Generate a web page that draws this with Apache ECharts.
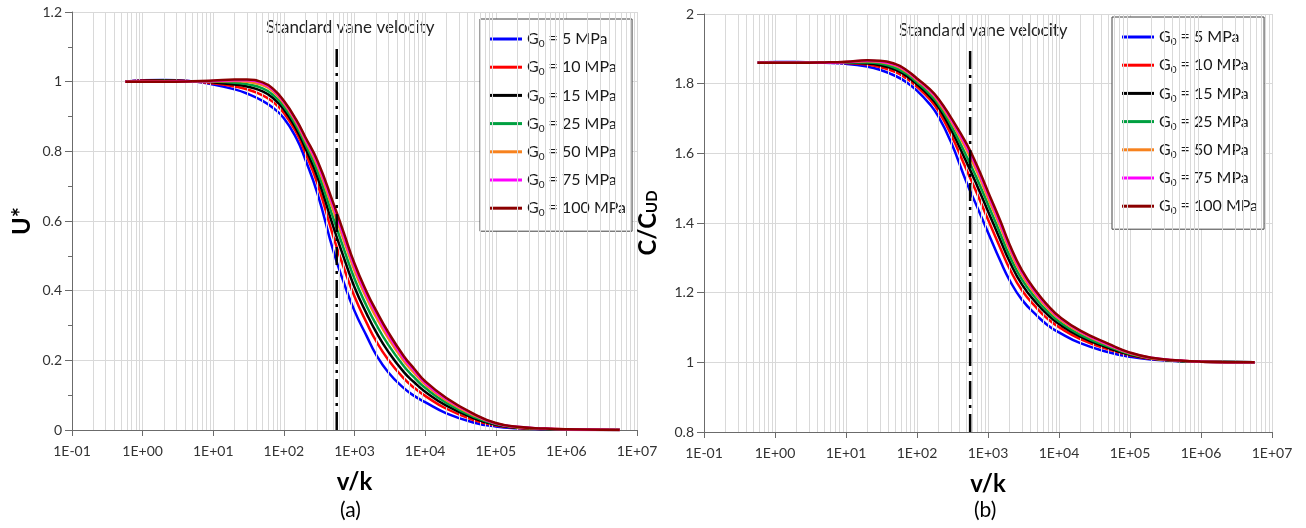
<!DOCTYPE html>
<html><head><meta charset="utf-8">
<script src="https://cdn.jsdelivr.net/npm/echarts@6/dist/echarts.min.js"></script>
<style>html,body{margin:0;padding:0;background:#fff}#c{width:1306px;height:528px}</style>
</head><body><div id="c"></div>
<script>
// ---- data ----
const vk = [0.57,1,2,5,10,20,30,50,70,100,150,200,300,500,700,1000,1500,2000,3000,5000,7000,1e4,2e4,5e4,1e5,2e5,5e5,1e6,5.7e6];
const seriesNames = ['G0 = 5 MPa','G0 = 10 MPa','G0 = 15 MPa','G0 = 25 MPa','G0 = 50 MPa','G0 = 75 MPa','G0 = 100 MPa'];
const seriesColors = ['#0000ff','#ff0000','#000000','#00a040','#f7821e','#ff00ff','#8b0000'];
// panel (a): U*
const uG5   = [1.000,1.004,1.005,1.001,0.992,0.978,0.966,0.945,0.925,0.895,0.838,0.778,0.678,0.515,0.425,0.342,0.268,0.218,0.166,0.120,0.098,0.080,0.048,0.021,0.010,0.005,0.002,0.001,0.000];
const uG10  = [1.000,1.003,1.004,1.001,0.995,0.986,0.978,0.961,0.942,0.910,0.854,0.797,0.706,0.556,0.468,0.383,0.306,0.257,0.202,0.148,0.121,0.098,0.061,0.028,0.013,0.006,0.003,0.001,0.000];
const uG15  = [1.000,1.002,1.003,1.001,0.998,0.992,0.986,0.972,0.953,0.920,0.864,0.810,0.725,0.584,0.497,0.410,0.332,0.283,0.225,0.166,0.137,0.110,0.070,0.033,0.015,0.007,0.003,0.0015,0.000];
const uG25  = [1.000,1.001,1.002,1.001,1.000,0.997,0.993,0.981,0.962,0.929,0.873,0.822,0.742,0.608,0.522,0.434,0.354,0.305,0.245,0.183,0.151,0.121,0.078,0.037,0.017,0.008,0.003,0.0015,0.000];
const uG50  = [1.000,1.001,1.001,1.001,1.001,1.002,1.000,0.990,0.972,0.938,0.882,0.832,0.758,0.631,0.547,0.458,0.376,0.326,0.264,0.198,0.164,0.131,0.085,0.041,0.019,0.008,0.004,0.002,0.000];
const uG75  = [1.000,1.000,1.000,1.001,1.002,1.004,1.004,0.995,0.977,0.942,0.887,0.838,0.766,0.644,0.559,0.470,0.387,0.338,0.274,0.206,0.171,0.136,0.089,0.044,0.019,0.009,0.004,0.002,0.000];
const uG100 = [1.000,1.000,1.000,1.001,1.003,1.006,1.006,0.998,0.980,0.945,0.890,0.842,0.772,0.652,0.568,0.478,0.395,0.345,0.281,0.212,0.176,0.140,0.092,0.045,0.020,0.009,0.004,0.002,0.000];
// panel (b): C/C_UD
const cG5   = [1.860,1.862,1.862,1.860,1.857,1.849,1.840,1.822,1.805,1.780,1.742,1.706,1.633,1.516,1.447,1.373,1.290,1.237,1.180,1.132,1.106,1.086,1.055,1.029,1.016,1.008,1.003,1.002,1.000];
const cG10  = [1.860,1.861,1.861,1.860,1.859,1.855,1.848,1.833,1.816,1.791,1.756,1.722,1.655,1.552,1.485,1.410,1.327,1.270,1.207,1.153,1.124,1.101,1.067,1.037,1.020,1.010,1.004,1.002,1.000];
const cG15  = [1.860,1.861,1.861,1.860,1.860,1.858,1.853,1.840,1.823,1.798,1.764,1.733,1.669,1.574,1.508,1.434,1.350,1.291,1.224,1.166,1.136,1.110,1.074,1.041,1.022,1.011,1.004,1.002,1.000];
const cG25  = [1.860,1.861,1.861,1.860,1.861,1.861,1.858,1.845,1.829,1.804,1.771,1.741,1.681,1.591,1.527,1.453,1.368,1.307,1.238,1.177,1.145,1.117,1.079,1.045,1.024,1.012,1.004,1.002,1.000];
const cG50  = [1.860,1.860,1.860,1.860,1.862,1.864,1.862,1.851,1.835,1.810,1.779,1.749,1.693,1.610,1.547,1.472,1.388,1.325,1.252,1.188,1.154,1.125,1.086,1.049,1.026,1.012,1.005,1.002,1.000];
const cG75  = [1.860,1.860,1.860,1.860,1.862,1.866,1.864,1.854,1.838,1.813,1.782,1.754,1.699,1.620,1.558,1.483,1.398,1.334,1.260,1.194,1.160,1.129,1.089,1.051,1.027,1.013,1.005,1.002,1.000];
const cG100 = [1.860,1.860,1.860,1.861,1.863,1.867,1.866,1.856,1.840,1.815,1.785,1.757,1.703,1.627,1.565,1.490,1.405,1.340,1.265,1.198,1.163,1.132,1.091,1.053,1.028,1.013,1.005,1.002,1.000];
const xTickLabels = ['1E-01','1E+00','1E+01','1E+02','1E+03','1E+04','1E+05','1E+06','1E+07'];
const vaneVelocity = 560;
const vaneLeft = [0, 1.1];
const vaneRight = [0.8, 1.9];
const minorMultipliers = [2,3,4,5,6,7,8,9];
const decades = [0.1,1,10,100,1000,1e4,1e5,1e6];

// ---- chart ----
const FONT = 'Lato';
const uSets = [uG5,uG10,uG15,uG25,uG50,uG75,uG100];
const cSets = [cG5,cG10,cG15,cG25,cG50,cG75,cG100];
const minorGrid = [];
decades.forEach(d => minorMultipliers.forEach(m => minorGrid.push({xAxis: d*m})));

function xAxisDef(idx){
  return {
    gridIndex: idx, type: 'log', logBase: 10, min: 0.1, max: 1e7, splitNumber: 8,
    name: 'v/k', nameLocation: 'middle', nameGap: 40,
    nameTextStyle: {fontFamily: FONT, fontSize: 24, fontWeight: 'bold', color: '#000'},
    axisLine: {show: true, onZero: false, lineStyle: {color: '#6b6b6b', width: 1}},
    axisTick: {show: true, length: 6, lineStyle: {color: '#6b6b6b'}},
    axisLabel: {margin: 14, fontFamily: FONT, fontSize: 14, color: '#333',
      formatter: v => xTickLabels[Math.round(Math.log10(v)) + 1]},
    splitLine: {show: true, lineStyle: {color: '#d9d9d9', width: 1}},
    minorTick: {show: false}
  };
}
function yAxisDef(idx, min, max, name, gap, minor){
  return {
    gridIndex: idx, type: 'value', min: min, max: max, interval: 0.2,
    name: name, nameLocation: 'middle', nameGap: gap, nameRotate: 90,
    nameTextStyle: {fontFamily: FONT, fontSize: 24, fontWeight: 'bold', color: '#000',
      rich: {
        a: {fontFamily: FONT, fontSize: 24, fontWeight: 'bold', color: '#000'},
        s: {fontFamily: FONT, fontSize: 15, fontWeight: 'bold', color: '#000', verticalAlign: 'bottom', lineHeight: 14}
      }},
    axisLine: {show: true, lineStyle: {color: '#6b6b6b', width: 1}},
    axisTick: {show: true, length: 7, lineStyle: {color: '#6b6b6b'}},
    minorTick: {show: minor, splitNumber: 2, length: 4, lineStyle: {color: '#6b6b6b'}},
    axisLabel: {margin: 10, fontFamily: FONT, fontSize: 14, color: '#333'},
    splitLine: {show: true, lineStyle: {color: '#d9d9d9', width: 1}}
  };
}
function legendDef(left, top){
  return {
    orient: 'vertical', left: left, top: top, icon: 'rect',
    padding: [12, 6, 13, 10], itemWidth: 32, itemHeight: 3, itemGap: 10.2,
    borderColor: '#404040', borderWidth: 1, backgroundColor: '#fff',
    data: seriesNames,
    formatter: n => '{g|G}{s|0}{g|' + n.slice(2) + '}',
    textStyle: {width: 94, rich: {
      g: {fontFamily: FONT, fontSize: 16, color: '#1a1a1a', lineHeight: 20},
      s: {fontFamily: FONT, fontSize: 10, color: '#1a1a1a', verticalAlign: 'bottom', lineHeight: 10}
    }}
  };
}

const series = [];
[0,1].forEach(g => {
  series.push({
    type: 'line', xAxisIndex: g, yAxisIndex: g, data: [], z: 1, silent: true,
    markLine: {silent: true, symbol: ['none','none'], label: {show: false}, animation: false,
      lineStyle: {color: '#d9d9d9', type: 'solid', width: 1}, data: minorGrid}
  });
});
seriesNames.forEach((n, i) => {
  series.push({
    name: n, type: 'line', xAxisIndex: 0, yAxisIndex: 0, symbol: 'none', smooth: 0.5, z: 3 + i,
    lineStyle: {color: seriesColors[i], width: 2.5}, itemStyle: {color: seriesColors[i]},
    data: vk.map((x, j) => [x, uSets[i][j]])
  });
  series.push({
    name: n, type: 'line', xAxisIndex: 1, yAxisIndex: 1, symbol: 'none', smooth: 0.5, z: 3 + i,
    lineStyle: {color: seriesColors[i], width: 2.5}, itemStyle: {color: seriesColors[i]},
    data: vk.map((x, j) => [x, cSets[i][j]])
  });
});
series.push({
  type: 'line', xAxisIndex: 0, yAxisIndex: 0, symbol: 'none', z: 20, silent: true,
  lineStyle: {color: '#000', width: 2.5, type: [18, 6, 3, 6]},
  data: vaneLeft.map(y => [vaneVelocity, y])
});
series.push({
  type: 'line', xAxisIndex: 1, yAxisIndex: 1, symbol: 'none', z: 20, silent: true,
  lineStyle: {color: '#000', width: 2.5, type: [18, 6, 3, 6]},
  data: vaneRight.map(y => [vaneVelocity, y])
});

const chart = echarts.init(document.getElementById('c'), null, {renderer: 'canvas'});
chart.setOption({
  animation: false,
  backgroundColor: '#fff',
  grid: [
    {left: 72, top: 12, width: 565, height: 418},
    {left: 704, top: 14, width: 568, height: 418}
  ],
  xAxis: [xAxisDef(0), xAxisDef(1)],
  yAxis: [
    yAxisDef(0, 0, 1.2, 'U*', 38, true),
    yAxisDef(1, 0.8, 2, '{a|C/C}{s|UD}', 44, false)
  ],
  legend: [legendDef(480, 19), legendDef(1112, 17)],
  series: series,
  graphic: [
    {type: 'text', left: 266, top: 19, style: {text: 'Standard vane velocity', font: '17px Lato', fill: '#222'}},
    {type: 'text', left: 899, top: 22, style: {text: 'Standard vane velocity', font: '17px Lato', fill: '#222'}},
    {type: 'text', left: 340, top: 500, style: {text: '(a)', font: '21px Lato', fill: '#000'}},
    {type: 'text', left: 974, top: 500, style: {text: '(b)', font: '21px Lato', fill: '#000'}}
  ]
});
</script>
</body></html>
